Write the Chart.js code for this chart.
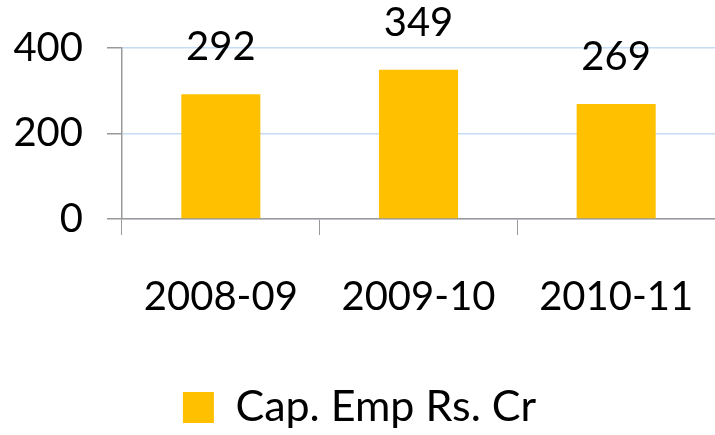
<!DOCTYPE html>
<html lang="en">
<head>
    <meta charset="UTF-8">
    <title>Cap. Emp</title>
    <script src="https://cdn.jsdelivr.net/npm/chart.js"></script>
    <style>
        body { margin: 0; background: #fff; overflow: hidden; }
        #wrap { width: 715px; height: 435px; }
    </style>
</head>
<body>
<div id="wrap"><canvas id="chartCanvas"></canvas></div>

<script>
    // chart data
    const years = ["2008-09", "2009-10", "2010-11"];
    const capEmp = [292, 349, 269];
    const seriesName = "Cap. Emp Rs. Cr";
    const yTicks = [0, 200, 400];

    const FONT = "Lato, 'Open Sans', sans-serif";

    // value labels above bars
    const barLabels = {
        id: "barLabels",
        afterDatasetsDraw(chart) {
            const ctx = chart.ctx;
            const meta = chart.getDatasetMeta(0);
            ctx.save();
            ctx.fillStyle = "#000";
            ctx.font = "40px " + FONT;
            ctx.textAlign = "center";
            ctx.textBaseline = "bottom";
            meta.data.forEach((bar, i) => {
                ctx.fillText(String(capEmp[i]), bar.x, bar.y - 27);
            });
            ctx.restore();
        }
    };

    const ctx = document.getElementById("chartCanvas").getContext("2d");
    new Chart(ctx, {
        type: "bar",
        data: {
            labels: years,
            datasets: [{
                label: seriesName,
                data: capEmp,
                backgroundColor: "#FFC000",
                categoryPercentage: 1,
                barPercentage: 0.4
            }]
        },
        options: {
            responsive: true,
            maintainAspectRatio: false,
            animation: false,
            layout: { padding: { top: 26, right: -4, left: 0, bottom: -4 } },
            plugins: {
                legend: {
                    position: "bottom",
                    labels: {
                        color: "#000",
                        font: { family: FONT, size: 43 },
                        boxWidth: 31,
                        boxHeight: 31,
                        padding: 14
                    }
                },
                tooltip: { enabled: false }
            },
            scales: {
                x: {
                    afterFit(scale) {
                        scale.paddingLeft = 0;
                        scale.paddingRight = 0;
                        scale.height += 13;
                    },
                    grid: {
                        offset: true,
                        drawOnChartArea: false,
                        drawTicks: true,
                        tickLength: 16,
                        tickColor: "#999"
                    },
                    border: { color: "#999", width: 1.5 },
                    ticks: {
                        color: "#000",
                        padding: 38,
                        font: { family: FONT, size: 40 }
                    }
                },
                y: {
                    min: 0,
                    max: 400,
                    afterBuildTicks(axis) {
                        axis.ticks = yTicks.map(v => ({ value: v }));
                    },
                    afterFit(scale) {
                        scale.width = 122;
                    },
                    grid: {
                        color: "#c6dcf5",
                        lineWidth: 1.5,
                        tickLength: 15,
                        tickColor: "#999"
                    },
                    border: { color: "#999", width: 1.5 },
                    ticks: {
                        color: "#000",
                        padding: 24,
                        font: { family: FONT, size: 40 }
                    }
                }
            }
        },
        plugins: [barLabels]
    });
</script>
</body>
</html>
